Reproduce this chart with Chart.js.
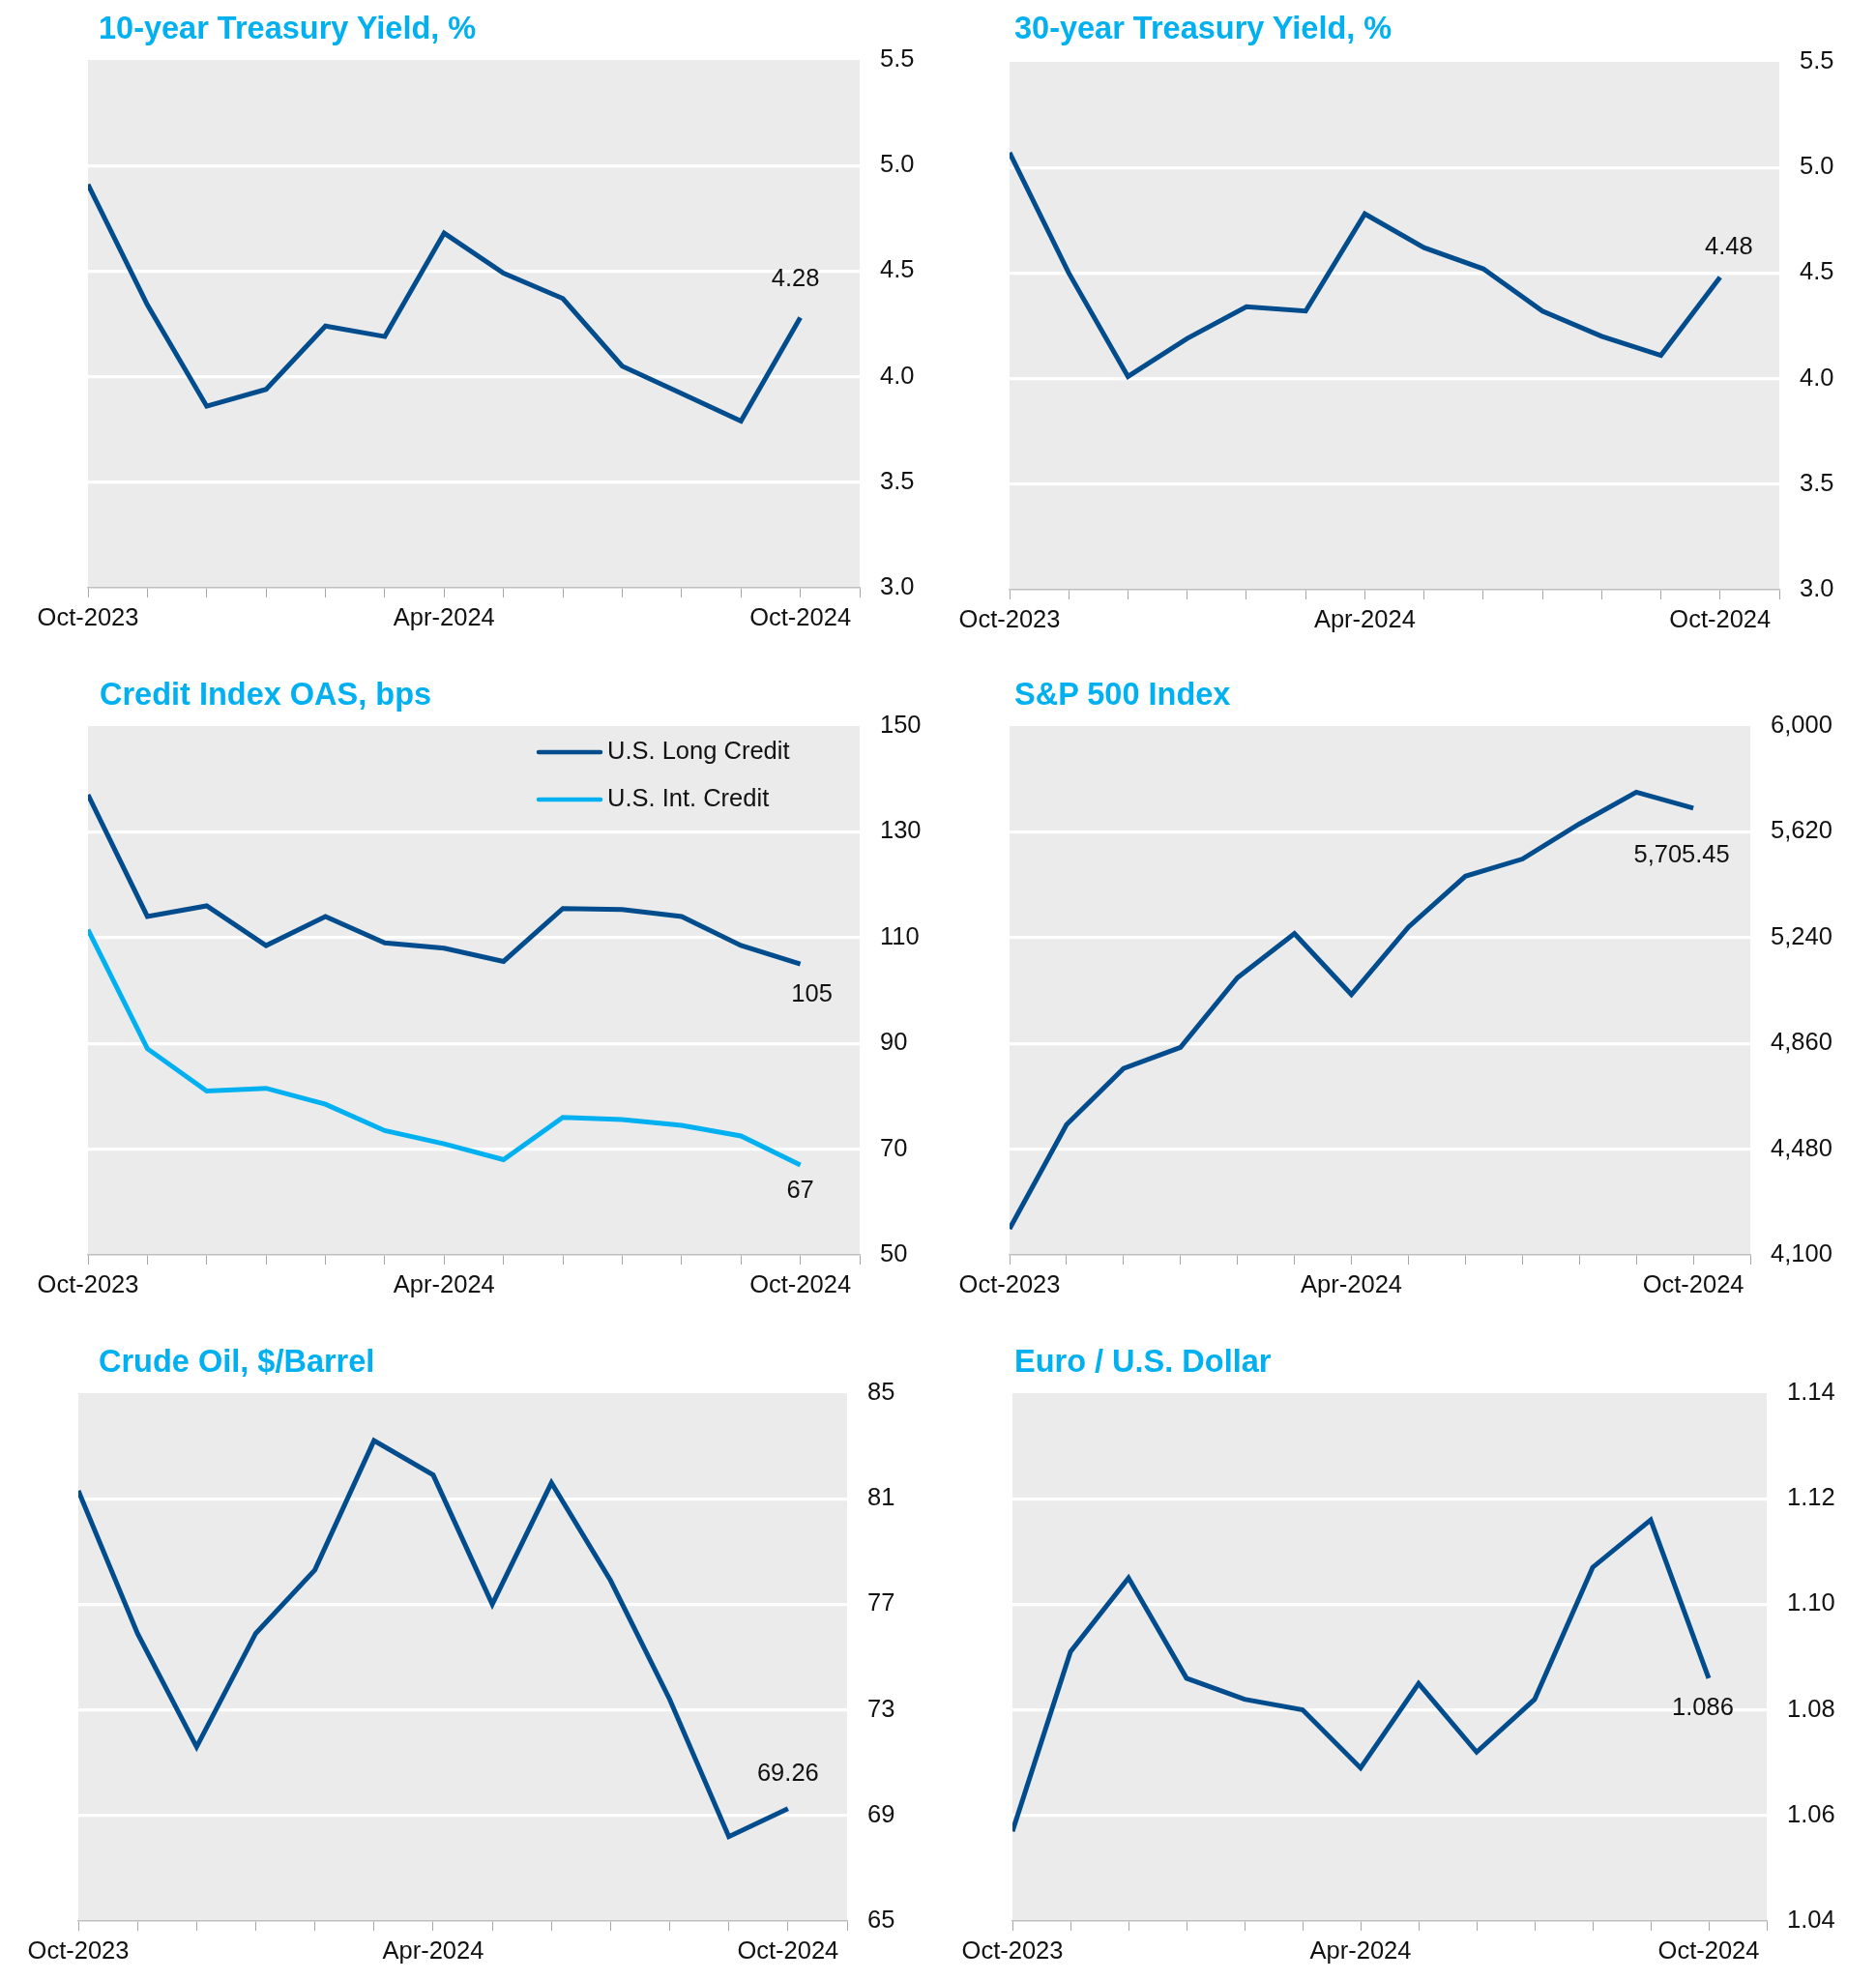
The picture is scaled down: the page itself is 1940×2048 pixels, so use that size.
<!DOCTYPE html>
<html>
<head>
<meta charset="utf-8">
<script src="https://cdn.jsdelivr.net/npm/chart.js@4.4.0/dist/chart.umd.min.js"></script>
<style>
body { margin: 0; background: #fff; width: 1940px; height: 2048px; position: relative; overflow: hidden; }
* { font-family: 'Liberation Sans', Arial, sans-serif; }
.title { position: absolute; font-size: 32.5px; font-weight: bold; color: #00B0F0; line-height: 36px; white-space: nowrap; }
canvas { position: absolute; }
</style>
</head>
<body>

<script>
// months on the x axis, only some get a label
var months = ['Oct-2023', 'Nov-2023', 'Dec-2023', 'Jan-2024', 'Feb-2024', 'Mar-2024', 'Apr-2024',
              'May-2024', 'Jun-2024', 'Jul-2024', 'Aug-2024', 'Sep-2024', 'Oct-2024'];
var labeledMonths = ['Oct-2023', 'Apr-2024', 'Oct-2024'];

var treasury10y = [4.91, 4.34, 3.86, 3.94, 4.24, 4.19, 4.68, 4.49, 4.37, 4.05, 3.92, 3.79, 4.28];
var treasury30y = [5.07, 4.50, 4.01, 4.19, 4.34, 4.32, 4.78, 4.62, 4.52, 4.32, 4.20, 4.11, 4.48];
var longCreditOAS = [137, 114, 116, 108.5, 114, 109, 108, 105.5, 115.5, 115.3, 114, 108.5, 105];
var intCreditOAS = [111.5, 89, 81, 81.5, 78.5, 73.5, 71, 68, 76, 75.6, 74.5, 72.5, 67];
var sp500 = [4193.80, 4567.80, 4769.83, 4845.65, 5096.27, 5254.35, 5035.69, 5277.51, 5460.48, 5522.30, 5648.40, 5762.48, 5705.45];
var crudeOil = [81.3, 75.9, 71.6, 75.9, 78.3, 83.2, 81.9, 77.0, 81.6, 77.9, 73.4, 68.2, 69.26];
var eurUsd = [1.057, 1.091, 1.105, 1.086, 1.082, 1.080, 1.069, 1.085, 1.072, 1.082, 1.107, 1.116, 1.086];

var ticks10y = [3.0, 3.5, 4.0, 4.5, 5.0, 5.5];
var ticks30y = [3.0, 3.5, 4.0, 4.5, 5.0, 5.5];
var ticksCredit = [50, 70, 90, 110, 130, 150];
var ticksSp500 = [4100, 4480, 4860, 5240, 5620, 6000];
var ticksOil = [65, 69, 73, 77, 81, 85];
var ticksEur = [1.04, 1.06, 1.08, 1.10, 1.12, 1.14];

var darkBlue = '#004C8C';
var lightBlue = '#00B0F0';

// space around each plot inside its canvas
var PAD_L = 70, PAD_T = 45, Y_W = 100, X_H = 60;
var FONT = '"Liberation Sans", Arial';

var bgPlugin = {
    id: 'plotBg',
    beforeDraw: function (chart) {
        var a = chart.chartArea, c = chart.ctx;
        c.save();
        c.fillStyle = '#EBEBEB';
        c.fillRect(a.left, a.top, a.right - a.left, a.bottom - a.top);
        c.restore();
    }
};

var endLabelPlugin = {
    id: 'endLabel',
    afterDatasetsDraw: function (chart, args, opts) {
        var c = chart.ctx;
        c.save();
        c.font = '25.5px ' + FONT;
        c.fillStyle = '#111';
        c.textAlign = 'center';
        c.textBaseline = 'middle';
        chart.data.datasets.forEach(function (ds, i) {
            var pts = chart.getDatasetMeta(i).data;
            var p = pts[pts.length - 1];
            var off = opts.offsets[i];
            c.fillText(opts.format(ds.data[ds.data.length - 1].y), p.x + off[0], p.y + off[1]);
        });
        c.restore();
    }
};

var insideLegendPlugin = {
    id: 'insideLegend',
    afterDraw: function (chart, args, opts) {
        if (!opts.show) return;
        var a = chart.chartArea, c = chart.ctx;
        c.save();
        c.font = '25.5px ' + FONT;
        c.fillStyle = '#111';
        c.textBaseline = 'middle';
        c.textAlign = 'left';
        chart.data.datasets.forEach(function (ds, i) {
            var y = a.top + 27 + i * 49;
            c.strokeStyle = ds.borderColor;
            c.lineWidth = 4.5;
            c.lineCap = 'round';
            c.beginPath();
            c.moveTo(a.left + 466, y);
            c.lineTo(a.left + 530, y);
            c.stroke();
            c.fillText(ds.label, a.left + 537, y);
        });
        c.restore();
    }
};

function makeChart(cfg) {
    var plotW = cfg.right - cfg.left, plotH = cfg.bottom - cfg.top;
    var canvas = document.createElement('canvas');
    canvas.width = PAD_L + plotW + Y_W;
    canvas.height = PAD_T + plotH + X_H;
    canvas.style.left = (cfg.left - PAD_L) + 'px';
    canvas.style.top = (cfg.top - PAD_T) + 'px';
    document.body.appendChild(canvas);

    var t = document.createElement('div');
    t.className = 'title';
    t.textContent = cfg.title;
    t.style.left = cfg.titleX + 'px';
    t.style.top = (cfg.titleY - 18) + 'px';
    document.body.appendChild(t);

    var yTicks = cfg.yTicks;
    var yMin = yTicks[0], yMax = yTicks[yTicks.length - 1];

    new Chart(canvas.getContext('2d'), {
        type: 'line',
        data: {
            datasets: cfg.series.map(function (s) {
                return {
                    label: s.label,
                    data: s.values.map(function (v, i) { return { x: i, y: v }; }),
                    borderColor: s.color,
                    borderWidth: 5,
                    pointRadius: 0,
                    tension: 0,
                    fill: false
                };
            })
        },
        options: {
            responsive: false,
            animation: false,
            layout: { padding: { left: PAD_L, top: PAD_T, right: 0, bottom: 0 } },
            plugins: {
                legend: { display: false },
                tooltip: { enabled: false },
                endLabel: { offsets: cfg.labelOffsets, format: cfg.format },
                insideLegend: { show: !!cfg.legend }
            },
            scales: {
                x: {
                    type: 'linear',
                    min: 0,
                    max: months.length,
                    afterFit: function (s) { s.height = X_H; },
                    grid: { drawOnChartArea: false, drawTicks: true, tickLength: 10, color: '#A6A6A6', lineWidth: 1 },
                    border: { display: true, color: '#BFBFBF', width: 1.5 },
                    ticks: {
                        stepSize: 1,
                        autoSkip: false,
                        maxRotation: 0,
                        padding: 7,
                        color: '#111',
                        font: { size: 25.5, family: FONT },
                        callback: function (v) {
                            var m = months[v];
                            return labeledMonths.indexOf(m) >= 0 ? m : '';
                        }
                    }
                },
                y: {
                    position: 'right',
                    min: yMin,
                    max: yMax,
                    afterFit: function (s) { s.width = Y_W; },
                    afterBuildTicks: function (s) {
                        s.ticks = yTicks.map(function (v) { return { value: v }; });
                    },
                    grid: {
                        drawTicks: false,
                        lineWidth: 3.2,
                        color: function (ctx) {
                            var v = ctx.tick && ctx.tick.value;
                            return (v === yMin || v === yMax) ? 'rgba(0,0,0,0)' : '#FFFFFF';
                        }
                    },
                    border: { display: false },
                    ticks: {
                        padding: 21,
                        color: '#111',
                        font: { size: 25.5, family: FONT },
                        callback: cfg.tickFormat
                    }
                }
            }
        },
        plugins: [bgPlugin, endLabelPlugin, insideLegendPlugin]
    });
}

makeChart({
    title: '10-year Treasury Yield, %', titleX: 102, titleY: 29,
    left: 91, right: 889, top: 62, bottom: 608,
    series: [{ label: '10-year', values: treasury10y, color: darkBlue }],
    yTicks: ticks10y,
    tickFormat: function (v) { return v.toFixed(1); },
    format: function (v) { return v.toFixed(2); },
    labelOffsets: [[-5, -39]]
});

makeChart({
    title: '30-year Treasury Yield, %', titleX: 1049, titleY: 29,
    left: 1044, right: 1840, top: 64, bottom: 610,
    series: [{ label: '30-year', values: treasury30y, color: darkBlue }],
    yTicks: ticks30y,
    tickFormat: function (v) { return v.toFixed(1); },
    format: function (v) { return v.toFixed(2); },
    labelOffsets: [[9, -31]]
});

makeChart({
    title: 'Credit Index OAS, bps', titleX: 103, titleY: 718,
    left: 91, right: 889, top: 751, bottom: 1298,
    series: [
        { label: 'U.S. Long Credit', values: longCreditOAS, color: darkBlue },
        { label: 'U.S. Int. Credit', values: intCreditOAS, color: lightBlue }
    ],
    legend: true,
    yTicks: ticksCredit,
    tickFormat: function (v) { return v.toFixed(0); },
    format: function (v) { return v.toFixed(0); },
    labelOffsets: [[12, 32], [0, 27]]
});

makeChart({
    title: 'S&P 500 Index', titleX: 1049, titleY: 718,
    left: 1044, right: 1810, top: 751, bottom: 1298,
    series: [{ label: 'S&P 500', values: sp500, color: darkBlue }],
    yTicks: ticksSp500,
    tickFormat: function (v) { return v.toLocaleString('en-US'); },
    format: function (v) { return v.toLocaleString('en-US', { minimumFractionDigits: 2, maximumFractionDigits: 2 }); },
    labelOffsets: [[-12, 49]]
});

makeChart({
    title: 'Crude Oil, $/Barrel', titleX: 102, titleY: 1408,
    left: 81, right: 876, top: 1441, bottom: 1987,
    series: [{ label: 'Crude Oil', values: crudeOil, color: darkBlue }],
    yTicks: ticksOil,
    tickFormat: function (v) { return v.toFixed(0); },
    format: function (v) { return v.toFixed(2); },
    labelOffsets: [[0, -36]]
});

makeChart({
    title: 'Euro / U.S. Dollar', titleX: 1049, titleY: 1408,
    left: 1047, right: 1827, top: 1441, bottom: 1987,
    series: [{ label: 'EUR/USD', values: eurUsd, color: darkBlue }],
    yTicks: ticksEur,
    tickFormat: function (v) { return v.toFixed(2); },
    format: function (v) { return v.toFixed(3); },
    labelOffsets: [[-6, 31]]
});
</script>
</body>
</html>
